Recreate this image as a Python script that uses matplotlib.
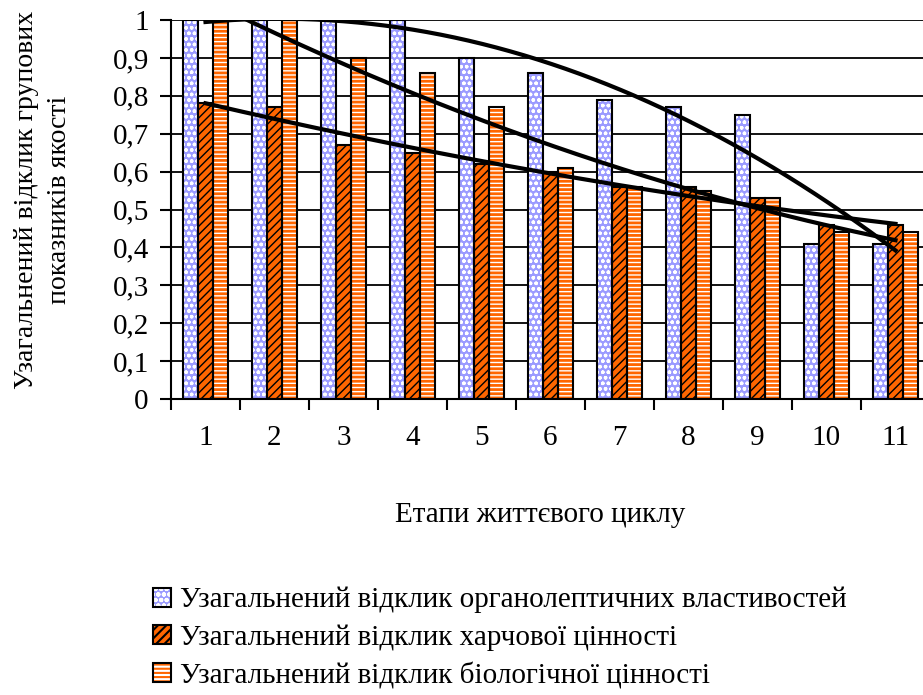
import numpy as np
import matplotlib.pyplot as plt
from matplotlib.patches import Patch
from matplotlib.legend_handler import HandlerTuple

plt.rcParams['font.family'] = ['Liberation Serif', 'DejaVu Serif']
plt.rcParams['font.size'] = 21
plt.rcParams['hatch.linewidth'] = 1.5

# Дані: етапи життєвого циклу та узагальнені відклики
stages = np.arange(1, 12)
organoleptic = [1, 1, 1, 1, 0.9, 0.86, 0.79, 0.77, 0.75, 0.41, 0.41]
nutritional = [0.78, 0.77, 0.67, 0.65, 0.62, 0.60, 0.56, 0.56, 0.53, 0.46, 0.46]
biological = [1, 1, 0.9, 0.86, 0.77, 0.61, 0.56, 0.55, 0.53, 0.44, 0.44]
names = ['Узагальнений відклик органолептичних властивостей',
         'Узагальнений відклик харчової цінності',
         'Узагальнений відклик біологічної цінності']
y_ticks = np.round(np.arange(0, 1.01, 0.1), 1)

# стиль: (заливка, штрихування, колір штрихування, товщина штрихування)
styles = [('#9b9bff', 'ooo', 'white', 1.0),
          ('#ff6600', '////', 'black', 1.0),
          ('white', '----', '#ff6600', 2.0)]

fig = plt.figure(figsize=(9.23, 6.95), dpi=100)
ax = fig.add_axes([171/923, 296/695, 759/923, 379/695])

w = 0.215
handles = []
for i, (vals, (fc, h, hc, hlw)) in enumerate(zip([organoleptic, nutritional, biological], styles)):
    x = stages + (i - 1) * w
    bars = ax.bar(x, vals, w, color=fc, edgecolor=hc, hatch=h, linewidth=0, zorder=2)
    for b in bars:
        if hasattr(b, 'set_hatch_linewidth'):
            b.set_hatch_linewidth(hlw)
    ax.bar(x, vals, w, facecolor='none', edgecolor='black', linewidth=1.5, zorder=3)
    p1 = Patch(facecolor=fc, edgecolor=hc, hatch=h, linewidth=0)
    if hasattr(p1, 'set_hatch_linewidth'):
        p1.set_hatch_linewidth(hlw)
    p2 = Patch(facecolor='none', edgecolor='black', linewidth=1.5)
    handles.append((p1, p2))

# поліноміальні лінії тренду (2-й ступінь)
xs = np.linspace(1, 11, 300)
for vals in [organoleptic, nutritional, biological]:
    coef = np.polyfit(stages, vals, 2)
    ax.plot(xs, np.polyval(coef, xs), color='black', lw=3, zorder=4)

ax.set_xlim(0.5, 11.5)
ax.set_ylim(0, 1)
ax.set_yticks(y_ticks)
ax.set_yticklabels([('%g' % t).replace('.', ',') for t in y_ticks])
ax.yaxis.grid(True, color='black', lw=1.3)
ax.set_axisbelow(True)
ax.tick_params(axis='y', length=8, width=1.5, pad=8)

ax.set_xticks(np.arange(0.5, 11.6, 1))
ax.set_xticklabels([])
ax.set_xticks(stages, minor=True)
ax.set_xticklabels([str(s) for s in stages], minor=True)
ax.tick_params(axis='x', which='major', length=8, width=1.5)
ax.tick_params(axis='x', which='minor', length=0, pad=19)

for s in ['top', 'right']:
    ax.spines[s].set_visible(False)
for s in ['left', 'bottom']:
    ax.spines[s].set_linewidth(1.5)

fig.text(43/923, 1 - 200/695, 'Узагальнений відклик групових\nпоказників якості',
         rotation=90, ha='center', va='center', multialignment='center',
         linespacing=1.4, fontsize=20)
fig.text(540/923, 1 - 515/695, 'Етапи життєвого циклу', ha='center', va='center')

fig.legend(handles, names, handler_map={tuple: HandlerTuple()},
           loc='center left', bbox_to_anchor=(153/923, 1 - 638/695),
           frameon=False, handlelength=0.62, handleheight=0.62, handletextpad=0.3,
           labelspacing=0.38, borderpad=0, borderaxespad=0)

fig.savefig('out.png', dpi=100)
